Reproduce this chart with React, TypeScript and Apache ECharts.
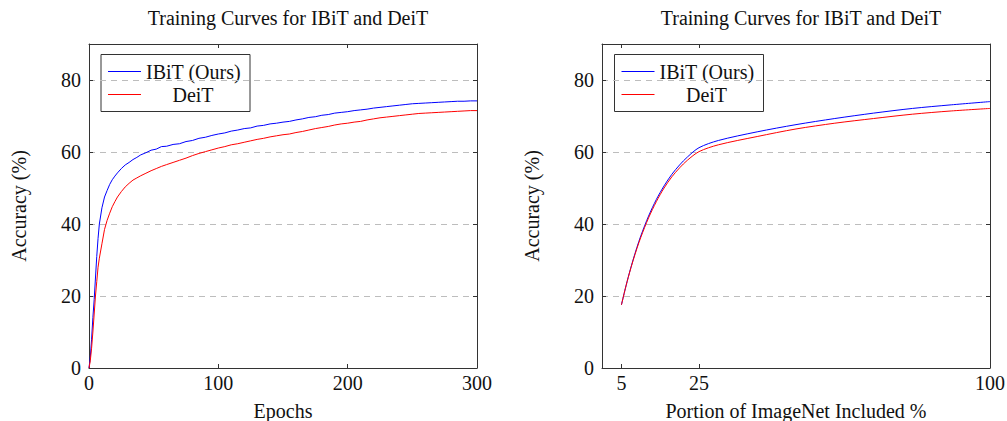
import React, { useEffect, useRef } from "react";
import * as echarts from "echarts";

const TITLE = "Training Curves for IBiT and DeiT";
const SERIES_NAMES = ["IBiT (Ours)", "DeiT"];

// Left panel: accuracy vs epochs
const epochs = [0, 1, 2, 3, 4, 5, 6, 7, 8, 10, 12, 14, 16, 18, 20, 22, 25, 28, 31, 34, 37, 40, 44, 48, 52, 56, 60, 65, 70, 75, 80, 85, 90, 95, 100, 105, 110, 115, 120, 125, 130, 135, 140, 145, 150, 155, 160, 165, 170, 175, 180, 185, 190, 195, 200, 205, 210, 215, 220, 225, 230, 235, 240, 245, 250, 255, 260, 265, 270, 275, 280, 285, 290, 295, 300];
const ibitEpochAcc = [0, 3, 8, 14, 19, 25, 31, 36, 40, 44.5, 47.5, 49.3, 51, 52.3, 53.3, 54.2, 55.4, 56.4, 57.1, 57.9, 58.5, 59.2, 59.8, 60.5, 60.8, 61.5, 61.6, 62.1, 62.3, 62.9, 63.2, 63.8, 64.1, 64.6, 65.0, 65.3, 65.8, 66.1, 66.5, 66.7, 67.2, 67.4, 67.8, 68.0, 68.3, 68.5, 68.9, 69.2, 69.6, 69.8, 70.2, 70.4, 70.8, 71.0, 71.2, 71.5, 71.7, 71.9, 72.2, 72.4, 72.6, 72.8, 73.0, 73.2, 73.4, 73.5, 73.6, 73.7, 73.8, 73.9, 74.0, 74.1, 74.1, 74.2, 74.2];
const deitEpochAcc = [0, 2, 5.5, 10, 15, 20, 24, 28, 30.5, 34.5, 38.5, 41, 43, 44.8, 46.2, 47.5, 49, 50.3, 51.3, 52.2, 52.8, 53.4, 54.1, 54.8, 55.4, 56.0, 56.5, 57.1, 57.7, 58.3, 59.0, 59.6, 60.1, 60.6, 61.1, 61.5, 62.0, 62.3, 62.7, 63.1, 63.5, 63.8, 64.2, 64.5, 64.8, 65.0, 65.4, 65.7, 66.1, 66.5, 66.8, 67.1, 67.5, 67.8, 68.0, 68.3, 68.5, 68.9, 69.2, 69.5, 69.7, 69.9, 70.1, 70.3, 70.5, 70.7, 70.8, 70.9, 71.0, 71.1, 71.2, 71.3, 71.4, 71.5, 71.5];

// Right panel: accuracy vs portion of ImageNet
const portions = [5, 6, 7, 8, 9, 10, 12, 14, 16, 18, 20, 22, 25, 30, 40, 50, 60, 70, 80, 90, 100];
const ibitPortionAcc = [17.5, 22, 26.2, 30, 33.5, 36.7, 42.2, 46.8, 50.6, 53.8, 56.4, 58.6, 61.2, 63.2, 65.6, 67.6, 69.3, 70.8, 72.1, 73.1, 74.0];
const deitPortionAcc = [17.5, 22, 26.1, 29.8, 33.2, 36.3, 41.7, 46.2, 50.0, 53.1, 55.6, 57.7, 60.1, 62.0, 64.3, 66.4, 68.0, 69.3, 70.5, 71.4, 72.1];

const yTicks = [0, 20, 40, 60, 80];
const epochTicks = [0, 100, 200, 300];
const portionTicks = [5, 25, 100];

const FONT = "Liberation Serif";
const BLUE = "#0000ff";
const RED = "#ff0000";
const FRAME = "#333";

function pairs(xs: number[], ys: number[]) {
  return xs.map((x, i) => [x, ys[i]]);
}

export default function App() {
  const ref = useRef<HTMLDivElement>(null);
  useEffect(() => {
    document.body.style.margin = "0";
    if (!ref.current) return;
    const chart = echarts.init(ref.current, undefined, { renderer: "svg" });

    const grids = [
      { left: 89, top: 44, width: 388, height: 324, outerBoundsMode: "none", containLabel: false },
      { left: 602, top: 44, width: 388, height: 324, outerBoundsMode: "none", containLabel: false },
    ];

    const serif = { fontFamily: FONT, fontSize: 20, color: "#111" };

    const xAxes: any[] = [];
    const yAxes: any[] = [];
    const xDefs = [
      { min: 0, max: 300, ticks: epochTicks, name: "Epochs", interval: 100 },
      { min: 0, max: 100, ticks: portionTicks, name: "Portion of ImageNet Included %", interval: 5 },
    ];
    xDefs.forEach((d, g) => {
      xAxes.push({
        type: "value",
        gridIndex: g,
        min: d.min,
        max: d.max,
        interval: d.interval,
        position: "bottom",
        name: d.name,
        nameLocation: "middle",
        nameGap: 33,
        nameTextStyle: { ...serif, lineHeight: 20 },
        axisLine: { show: true, onZero: false, lineStyle: { color: FRAME, width: 1 } },
        axisTick: { show: true, inside: true, length: 4, customValues: d.ticks, lineStyle: { color: FRAME } },
        axisLabel: { show: true, margin: 5, customValues: d.ticks, ...serif },
        splitLine: { show: false },
      });
      xAxes.push({
        type: "value",
        gridIndex: g,
        min: d.min,
        max: d.max,
        interval: d.interval,
        position: "top",
        axisLine: { show: true, onZero: false, lineStyle: { color: FRAME, width: 1 } },
        axisTick: { show: true, inside: true, length: 4, customValues: d.ticks, lineStyle: { color: FRAME } },
        axisLabel: { show: false },
        splitLine: { show: false },
      });
    });
    [0, 1].forEach((g) => {
      yAxes.push({
        type: "value",
        gridIndex: g,
        min: 0,
        max: 90,
        interval: 20,
        position: "left",
        name: "Accuracy (%)",
        nameLocation: "middle",
        nameGap: 60,
        nameTextStyle: { ...serif },
        axisLine: { show: true, onZero: false, lineStyle: { color: FRAME, width: 1 } },
        axisTick: { show: true, inside: true, length: 4, customValues: yTicks, lineStyle: { color: FRAME } },
        axisLabel: { show: true, margin: 8, customValues: yTicks, ...serif },
        splitLine: { show: true, lineStyle: { color: "#bdbdbd", type: [6, 5], width: 1 } },
      });
      yAxes.push({
        type: "value",
        gridIndex: g,
        min: 0,
        max: 90,
        interval: 20,
        position: "right",
        axisLine: { show: true, onZero: false, lineStyle: { color: FRAME, width: 1 } },
        axisTick: { show: true, inside: true, length: 4, customValues: yTicks, lineStyle: { color: FRAME } },
        axisLabel: { show: false },
        splitLine: { show: false },
      });
    });

    const lineSeries = (name: string, data: number[][], color: string, g: number, smooth: any) => ({
      type: "line",
      name,
      xAxisIndex: g * 2,
      yAxisIndex: g * 2,
      data,
      showSymbol: false,
      smooth,
      lineStyle: { color, width: 1 },
      itemStyle: { color },
      z: 3,
    });

    const legendGraphic = (x0: number) => ({
      type: "group",
      left: x0,
      top: 54,
      children: [
        { type: "rect", shape: { x: 0, y: 0, width: 149, height: 57 }, style: { fill: "#fff", stroke: FRAME, lineWidth: 1 } },
        { type: "line", shape: { x1: 7, y1: 17, x2: 40, y2: 17 }, style: { stroke: BLUE, lineWidth: 1 } },
        { type: "line", shape: { x1: 7, y1: 40, x2: 40, y2: 40 }, style: { stroke: RED, lineWidth: 1 } },
        { type: "text", x: 45, y: 17, style: { text: SERIES_NAMES[0], fontFamily: FONT, fontSize: 20, fill: "#111", verticalAlign: "middle", align: "left" } },
        { type: "text", x: 92, y: 40, style: { text: SERIES_NAMES[1], fontFamily: FONT, fontSize: 20, fill: "#111", verticalAlign: "middle", align: "center" } },
      ],
      z: 10,
    });

    const titleStyle = { fontFamily: FONT, fontSize: 20, fontWeight: "normal", color: "#111" };

    chart.setOption({
      animation: false,
      backgroundColor: "#fff",
      textStyle: { fontFamily: FONT },
      title: [
        { text: TITLE, left: 283, top: 3, textAlign: "center", textStyle: titleStyle },
        { text: TITLE, left: 796, top: 3, textAlign: "center", textStyle: titleStyle },
      ],
      grid: grids,
      xAxis: xAxes,
      yAxis: yAxes,
      series: [
        lineSeries(SERIES_NAMES[0], pairs(epochs, ibitEpochAcc), BLUE, 0, false),
        lineSeries(SERIES_NAMES[1], pairs(epochs, deitEpochAcc), RED, 0, false),
        lineSeries(SERIES_NAMES[0], pairs(portions, ibitPortionAcc), BLUE, 1, 0.3),
        lineSeries(SERIES_NAMES[1], pairs(portions, deitPortionAcc), RED, 1, 0.3),
      ],
      graphic: [legendGraphic(100.5), legendGraphic(614)],
    });
    return () => chart.dispose();
  }, []);
  return <div ref={ref} style={{ width: 1007, height: 421 }} />;
}
